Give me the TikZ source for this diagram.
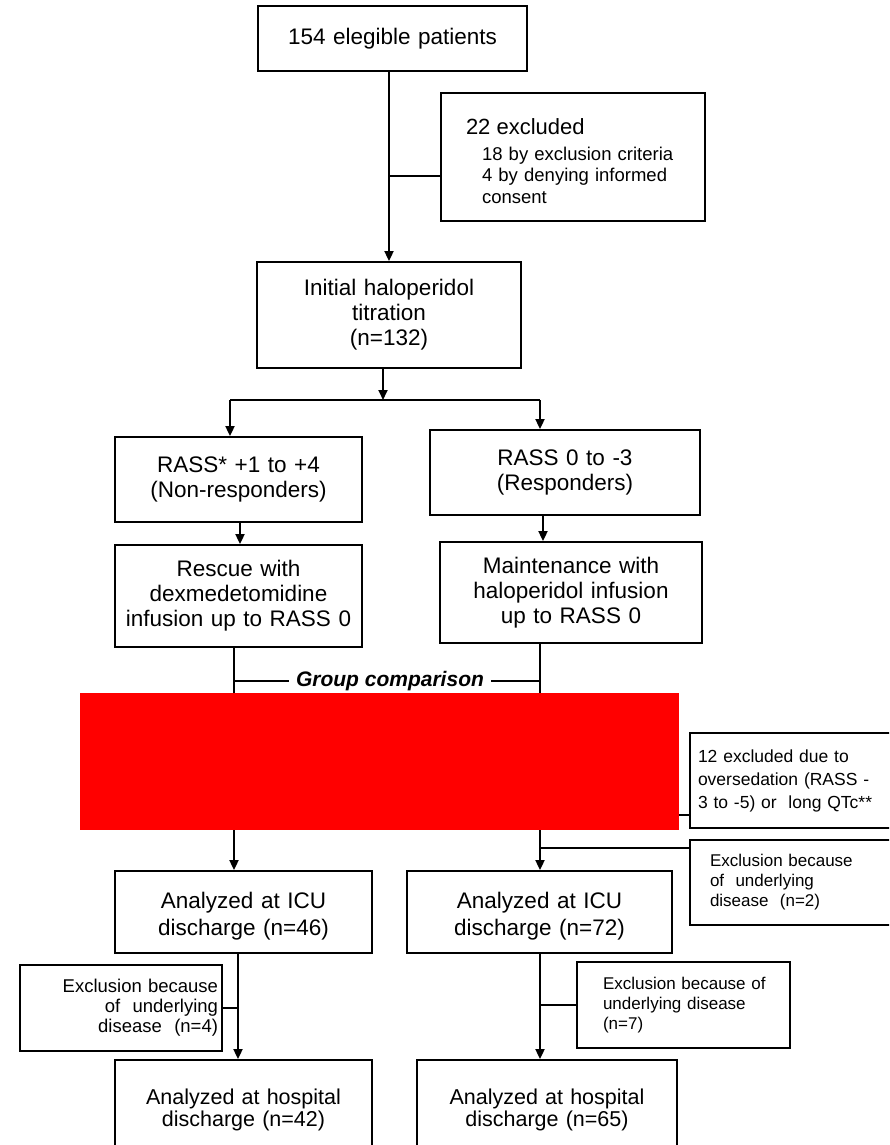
\documentclass[tikz,border=0pt]{standalone}
\usepackage{fontspec}
\setmainfont{Liberation Sans}
\usetikzlibrary{arrows.meta}
\begin{document}
\begin{tikzpicture}[x=1pt,y=-1pt,
  box/.style={draw, line width=1.8pt, inner sep=0pt, align=center},
  big/.style={font=\fontsize{22.5}{25}\selectfont},
  icu/.style={font=\fontsize{22.5}{27}\selectfont},
  hosp/.style={font=\fontsize{21.5}{22}\selectfont},
  small/.style={font=\fontsize{17}{20}\selectfont},
  link/.style={line width=1.8pt},
  arr/.style={link, -{Triangle[length=10pt,width=9pt]}},
]
\useasboundingbox (0,0) rectangle (889,1145);
\clip (0,0) rectangle (889,1145);

% --- boxes ---
\node[box,big,minimum width=269pt,minimum height=65pt,text width=269pt] (elig) at (392.5,38.5) {154 elegible patients};
\node[box,minimum width=264pt,minimum height=128pt,text width=256pt,inner xsep=4pt,align=left,
      font=\fontsize{18.5}{21.5}\selectfont] (excl) at (573,157)
  {\rule{0pt}{24pt}\hspace*{21pt}{\fontsize{22}{26}\selectfont 22 excluded}\\[4pt]
   \hspace*{37pt}18 by exclusion criteria\\
   \hspace*{37pt}4 by denying informed\\
   \hspace*{37pt}consent};
\node[box,big,minimum width=264pt,minimum height=106pt,text width=264pt] (init) at (389,315)
  {Initial haloperidol\\titration\\(n=132)};

\node[box,big,minimum width=247pt,minimum height=85pt,text width=247pt] (rass1) at (238.5,479.5)
  {RASS* +1 to +4\\(Non-responders)};
\node[box,big,minimum width=270pt,minimum height=85pt,text width=270pt] (rass2) at (565,472.5)
  {RASS 0 to -3\\(Responders)};
\node[box,big,minimum width=247pt,minimum height=102pt,text width=247pt] (resc) at (238.5,596)
  {Rescue with\\dexmedetomidine\\infusion up to RASS 0};
\node[box,big,minimum width=262pt,minimum height=101pt,text width=262pt] (maint) at (571,592.5)
  {Maintenance with\\haloperidol infusion\\up to RASS 0};

\node[box,minimum width=215pt,minimum height=95pt,text width=207pt,inner xsep=4pt,align=left,
      font=\fontsize{17.5}{23}\selectfont] (ex12) at (797.5,780.5)
  {\hspace*{4pt}12 excluded due to\\\hspace*{4pt}oversedation (RASS -\\\hspace*{4pt}3 to -5) or\ \ long QTc**};
\node[box,small,minimum width=215pt,minimum height=85pt,text width=207pt,inner xsep=4pt,align=left] (ex2) at (797.5,882.5)
  {\hspace*{16pt}Exclusion because\\\hspace*{16pt}of\ \ underlying\\\hspace*{16pt}disease\ \ (n=2)};

\node[box,icu,minimum width=257pt,minimum height=82pt,text width=257pt] (icu1) at (243.5,912)
  {\rule{0pt}{24pt}Analyzed at ICU\\discharge (n=46)};
\node[box,icu,minimum width=265pt,minimum height=82pt,text width=265pt] (icu2) at (539.5,912)
  {\rule{0pt}{24pt}Analyzed at ICU\\discharge (n=72)};

\node[box,minimum width=202pt,minimum height=86pt,text width=194pt,inner xsep=4pt,align=right,
      font=\fontsize{18.5}{20}\selectfont] (exl) at (121,1008)
  {Exclusion because\hspace*{3pt}\\of\ \ underlying\hspace*{3pt}\\disease\ \ (n=4)\hspace*{3pt}};
\node[box,small,minimum width=213pt,minimum height=86pt,text width=205pt,inner xsep=4pt,align=left] (exr) at (683.5,1005)
  {\hspace*{22pt}Exclusion because of\\\hspace*{22pt}underlying disease\\\hspace*{22pt}(n=7)};

\node[box,hosp,minimum width=257pt,minimum height=94pt,text width=257pt] (hosp1) at (243.5,1107)
  {\rule{0pt}{22pt}Analyzed at hospital\\discharge (n=42)};
\node[box,hosp,minimum width=260pt,minimum height=94pt,text width=260pt] (hosp2) at (547,1107)
  {\rule{0pt}{22pt}Analyzed at hospital\\discharge (n=65)};

% --- trunk coordinates ---
\coordinate (sp) at (383,400);
\coordinate (spL) at (230,400);
\coordinate (spR) at (540,400);
\coordinate (m) at (543,0);
\coordinate (L) at (234,0);
\coordinate (R) at (540,0);
\coordinate (L2) at (238,0);

% --- connectors ---
\draw[arr] (elig.south -| init.north) -- (init.north);
\coordinate (bx) at ([yshift=-19pt]excl.west);
\draw[link] (bx) -- (bx -| init.north);

\draw[arr] (init.south -| sp) -- (sp);
\draw[link] (spL) -- (spR);
\draw[arr] (spL) -- (spL |- rass1.north);
\draw[arr] (spR) -- (spR |- rass2.north);

\draw[arr] ([xshift=1.5pt]rass1.south) -- ([xshift=1.5pt]resc.north);
\draw[arr] (rass2.south -| m) -- (maint.north -| m);

\draw[arr] (resc.south -| L) -- (icu1.north -| L);
\draw[arr] (maint.south -| R) -- (icu2.north -| R);

\node[inner xsep=7pt,font=\fontsize{21}{24}\selectfont\bfseries\itshape] (gc) at (390,681) {Group comparison};
\draw[link] (gc.west) -- (gc.west -| L);
\draw[link] (gc.east) -- (gc.east -| R);

\coordinate (b12) at ([yshift=-34.5pt]ex12.west);
\draw[link] (b12) -- (b12 -| R);
\coordinate (b2) at ([yshift=34.5pt]ex2.west);
\draw[link] (b2) -- (b2 -| R);

\draw[arr] (icu1.south -| L2) -- (hosp1.north -| L2);
\draw[link] (exl.east) -- (exl.east -| L2);
\draw[arr] (icu2.south -| R) -- (hosp2.north -| R);
\draw[link] (exr.west) -- (exr.west -| R);

% --- redacted band ---
\fill[red] (80,693) rectangle (679,830);
\end{tikzpicture}
\end{document}
